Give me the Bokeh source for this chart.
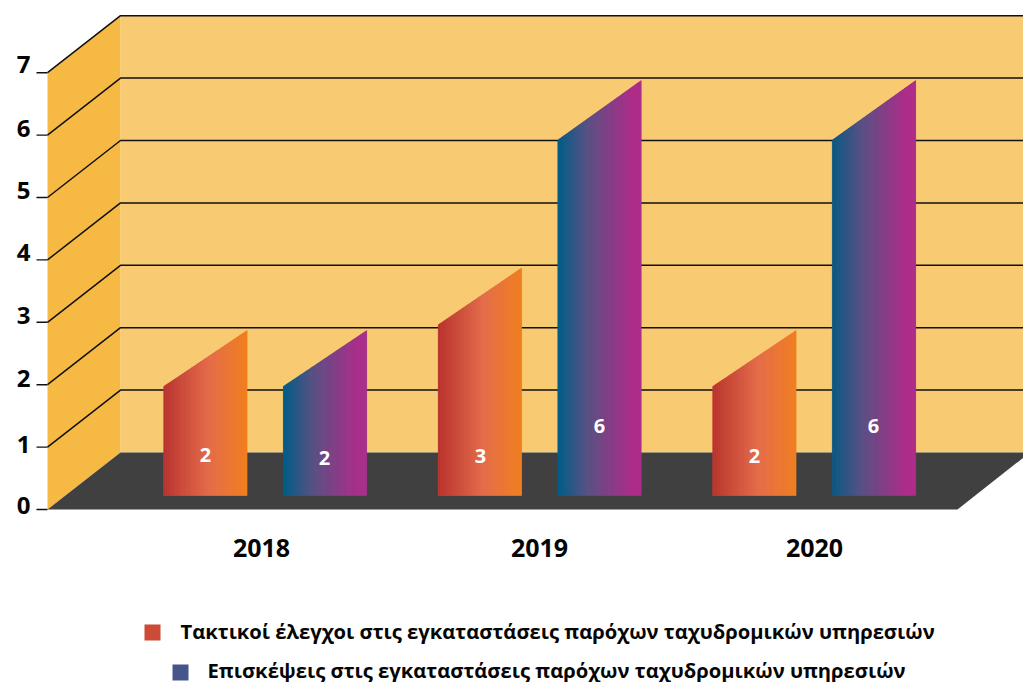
from bokeh.plotting import figure
from bokeh.models import Range1d
from bokeh.core.properties import value
from bokeh.embed import file_html
from bokeh.resources import INLINE

# ---- data
years = ["2018", "2019", "2020"]
series_names = ["Τακτικοί έλεγχοι στις εγκαταστάσεις παρόχων ταχυδρομικών υπηρεσιών",
                "Επισκέψεις στις εγκαταστάσεις παρόχων ταχυδρομικών υπηρεσιών"]
inspections = [2, 3, 2]
visits = [2, 6, 6]
y_ticks = [0, 1, 2, 3, 4, 5, 6, 7]

# ---- style
FONT = "Open Sans"
WALL_BACK = "#f8cb72"
WALL_SIDE = "#f6b944"
FLOOR = "#404041"
INK = "#050505"
RED_STOPS = [(0.0, (184, 50, 47)), (0.55, (229, 110, 76)), (1.0, (241, 128, 32))]
BLUE_STOPS = [(0.0, (0, 93, 135)), (0.35, (88, 82, 132)), (0.88, (174, 46, 138)), (1.0, (174, 46, 138))]
SWATCH = ["#cc4b37", "#46568c"]

# ---- layout: picture pixels -> data units
PX_X = 274.5           # pixels per category
PX_Y = 62.4            # pixels per value unit
CENTER_0 = 265         # picture x of the first category
ZERO_Y = 509           # picture y of value 0 on the front plane
W, H = 1023, 682


def ux(px):
    return (px - CENTER_0) / PX_X


def uy(py):
    return (ZERO_Y - py) / PX_Y


DX = 73 / PX_X         # depth of the box
DY = 57 / PX_Y
BAR_W = 83.4 / PX_X
BAR_OFF = [-101.8 / PX_X, 17.8 / PX_X]
BAR_BASE = uy(495)
X_FRONT = ux(47)
X_RIGHT = ux(1023)

p = figure(width=W, height=H, output_backend="svg", toolbar_location=None,
           x_range=Range1d(ux(0), ux(1023)), y_range=Range1d(uy(682), uy(0)),
           x_axis_type=None, y_axis_type=None, min_border=0,
           border_fill_color="white", background_fill_color="white",
           outline_line_color=None)
p.grid.visible = False

# back wall, side wall, floor
top = y_ticks[-1]
p.patch([X_FRONT + DX, X_RIGHT, X_RIGHT, X_FRONT + DX], [DY, DY, top + DY, top + DY],
        fill_color=WALL_BACK, line_color=None)
p.patch([X_FRONT, X_FRONT + DX, X_FRONT + DX, X_FRONT, X_FRONT],
        [0, DY, top + DY, top, uy(515)], fill_color=WALL_SIDE, line_color=None)
p.patch([X_FRONT, X_FRONT + DX, X_RIGHT, X_RIGHT, ux(957)],
        [0, DY, DY, uy(457), 0], fill_color=FLOOR, line_color=None)

# grid lines and ticks
for t in y_ticks[1:]:
    p.line([X_FRONT, X_FRONT + DX, X_RIGHT], [t, t + DY, t + DY], line_color="#111111", line_width=1.5)
for t in y_ticks:
    p.segment(ux(36), t, X_FRONT, t, line_color="#111111", line_width=1.4)


def mix(stops, f):
    for (f0, c0), (f1, c1) in zip(stops, stops[1:]):
        if f <= f1:
            k = (f - f0) / (f1 - f0)
            return "#%02x%02x%02x" % tuple(round(a + (b - a) * k) for a, b in zip(c0, c1))
    return "#%02x%02x%02x" % stops[-1][1]


def bar(center, off, val, stops):
    left = center + off
    # front and back heights of the slanted top
    y_l = val * 0.987 - 0.002
    y_r = val * 1.0016 + 0.865
    n = 42
    xs, ys, cols = [], [], []
    # solid underlay so the strips cannot show seams
    p.patch([left, left + BAR_W, left + BAR_W, left],
            [BAR_BASE, BAR_BASE, y_r, y_l], fill_color=mix(stops, 0.5), line_color=None)
    for i in range(n):
        a, b = i / n, (i + 1) / n
        xs.append([left + a * BAR_W, left + b * BAR_W, left + b * BAR_W, left + a * BAR_W])
        ys.append([BAR_BASE, BAR_BASE, y_l + b * (y_r - y_l), y_l + a * (y_r - y_l)])
        cols.append(mix(stops, (a + b) / 2))
    p.patches(xs, ys, fill_color=cols, line_color=cols, line_width=0.4)


for i in range(len(years)):
    bar(i, BAR_OFF[0], inspections[i], RED_STOPS)
    bar(i, BAR_OFF[1], visits[i], BLUE_STOPS)

# white value labels
label_x = [205, 324, 480, 599, 754, 873]
label_y = [454.5, 457.5, 455.5, 425.5, 455.5, 425.5]
label_v = [inspections[0], visits[0], inspections[1], visits[1], inspections[2], visits[2]]
p.text([ux(v) for v in label_x], [uy(v) for v in label_y], text=[str(v) for v in label_v],
       text_font=value(FONT), text_font_style="bold", text_font_size="20px", text_color="white",
       text_align="center", text_baseline="middle")

# value-axis labels
tick_label_y = [505, 444, 378, 315, 252, 190, 128, 64]
p.text([ux(23)] * len(y_ticks), [uy(v) for v in tick_label_y], text=[str(t) for t in y_ticks],
       text_font=value(FONT), text_font_style="bold", text_font_size="24px", text_color=INK,
       text_align="center", text_baseline="middle")

# category labels
year_x = [261, 539, 814]
p.text([ux(v) for v in year_x], [uy(547.5)] * 3, text=years,
       text_font=value(FONT), text_font_style="bold", text_font_size="25px", text_color=INK,
       text_align="center", text_baseline="middle")

# legend
sw_x = [144, 172]
sw_y = [624, 664]
txt_x = [180, 207]
txt_y = [630.5, 669]
for i in range(2):
    p.quad(left=ux(sw_x[i]), right=ux(sw_x[i] + 16), top=uy(sw_y[i]), bottom=uy(sw_y[i] + 16),
           fill_color=SWATCH[i], line_color=None)
    p.text([ux(txt_x[i])], [uy(txt_y[i])], text=[series_names[i]],
           text_font=value(FONT), text_font_style="bold", text_font_size="20.2px", text_color=INK,
           text_align="left", text_baseline="middle")

open("out.html", "w").write(file_html(p, INLINE))
